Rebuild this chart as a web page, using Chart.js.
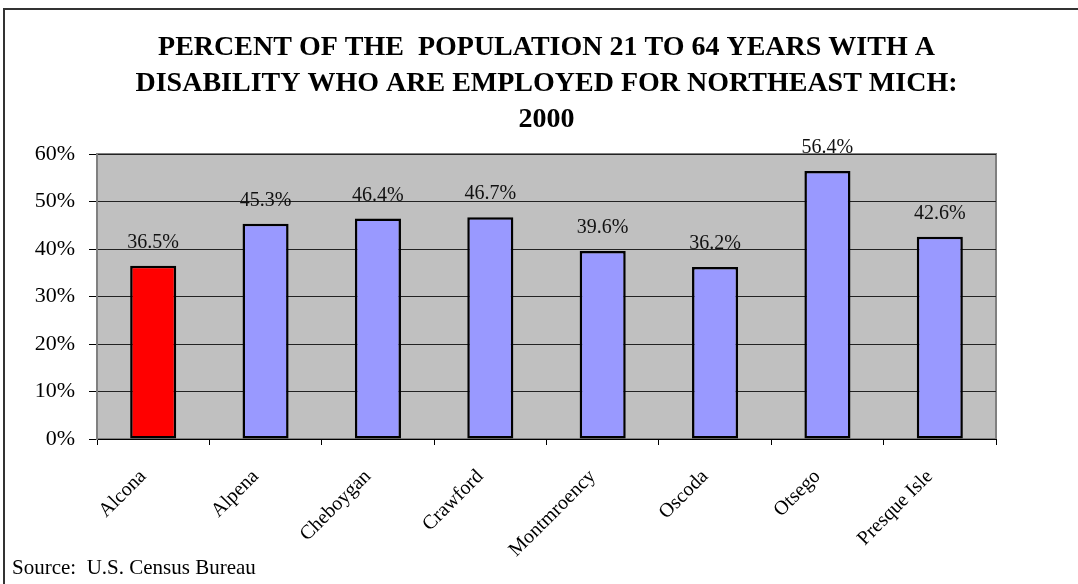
<!DOCTYPE html>
<html>
<head>
<meta charset="utf-8">
<script src="https://cdn.jsdelivr.net/npm/chart.js@4.4.1/dist/chart.umd.min.js"></script>
<style>
    html, body { margin: 0; padding: 0; background: #ffffff; }
    #wrap { position: relative; width: 1078px; height: 584px; }
</style>
</head>
<body>
<div id="wrap"><canvas id="disabilityChart" width="1078" height="584"></canvas></div>
<script>
var counties = ['Alcona', 'Alpena', 'Cheboygan', 'Crawford', 'Montmroency', 'Oscoda', 'Otsego', 'Presque Isle'];
var employedPct = [36.5, 45.3, 46.4, 46.7, 39.6, 36.2, 56.4, 42.6];
var barColors = ['#FF0000', '#9999FF', '#9999FF', '#9999FF', '#9999FF', '#9999FF', '#9999FF', '#9999FF'];
var yTicks = [0, 10, 20, 30, 40, 50, 60];
var titleLines = ['PERCENT OF THE  POPULATION 21 TO 64 YEARS WITH A', 'DISABILITY WHO ARE EMPLOYED FOR NORTHEAST MICH:', '2000'];
var sourceNote = 'Source:  U.S. Census Bureau';

var serif = "'Liberation Serif', 'Times New Roman', serif";

/*Frame, plot fill, title and source line*/
var framePlugin = {
    id: 'frame',
    beforeDraw: function (chart) {
        var ctx = chart.ctx;
        var a = chart.chartArea;
        ctx.save();
        ctx.fillStyle = '#ffffff';
        ctx.fillRect(0, 0, chart.width, chart.height);
        ctx.strokeStyle = '#333333';
        ctx.lineWidth = 2;
        ctx.beginPath();
        ctx.moveTo(4, chart.height);
        ctx.lineTo(4, 9);
        ctx.lineTo(chart.width, 9);
        ctx.stroke();
        ctx.fillStyle = '#C0C0C0';
        ctx.fillRect(a.left, a.top, a.right - a.left, a.bottom - a.top);
        ctx.strokeStyle = '#808080';
        ctx.lineWidth = 2;
        ctx.strokeRect(a.left, a.top, a.right - a.left, a.bottom - a.top);
        ctx.restore();
    },
    afterDraw: function (chart) {
        var ctx = chart.ctx;
        var a = chart.chartArea;
        var cx = (a.left + a.right) / 2;
        ctx.save();
        ctx.fillStyle = '#000000';
        ctx.textAlign = 'center';
        ctx.textBaseline = 'alphabetic';
        ctx.font = 'bold 28px ' + serif;
        titleLines.forEach(function (line, i) {
            ctx.fillText(line, cx, 55 + i * 36);
        });
        ctx.font = '21px ' + serif;
        ctx.textAlign = 'left';
        ctx.textBaseline = 'middle';
        ctx.fillText(sourceNote, 12, 568);
        ctx.restore();
    }
};

/*Value label above each bar*/
var valuePlugin = {
    id: 'valueLabels',
    afterDatasetsDraw: function (chart) {
        var ctx = chart.ctx;
        var meta = chart.getDatasetMeta(0);
        ctx.save();
        ctx.font = '20px ' + serif;
        ctx.fillStyle = '#111111';
        ctx.textAlign = 'center';
        ctx.textBaseline = 'middle';
        meta.data.forEach(function (bar, i) {
            ctx.fillText(employedPct[i].toFixed(1) + '%', bar.x, bar.y - 23);
        });
        ctx.restore();
    }
};

var chartDiv = document.getElementById('disabilityChart');
var myChart = new Chart(chartDiv, {
    type: 'bar',
    data: {
        labels: counties,
        datasets: [
            {
                data: employedPct,
                backgroundColor: barColors,
                borderColor: '#000000',
                borderWidth: 2.5,
                borderSkipped: false,
                categoryPercentage: 1,
                barPercentage: 0.41
            }]
    },
    options: {
        responsive: false,
        animation: false,
        devicePixelRatio: 1,
        layout: {
            padding: { top: 154, left: 0, right: 82, bottom: 0 }
        },
        plugins: {
            legend: { display: false },
            tooltip: { enabled: false },
            title: { display: false }
        },
        scales: {
            x: {
                offset: true,
                grid: {
                    offset: true,
                    drawOnChartArea: false,
                    tickLength: 6,
                    tickColor: '#000000'
                },
                border: { color: '#000000', width: 1 },
                ticks: {
                    color: '#000000',
                    font: { family: serif, size: 20 },
                    minRotation: 45,
                    maxRotation: 45,
                    padding: 20,
                    labelOffset: -10,
                    autoSkip: false
                },
                afterFit: function (scale) {
                    scale.height = 145;
                }
            },
            y: {
                min: 0,
                max: 60,
                afterBuildTicks: function (scale) {
                    scale.ticks = yTicks.map(function (v) { return { value: v }; });
                },
                grid: {
                    color: '#222222',
                    lineWidth: 1,
                    tickLength: 8,
                    tickColor: '#000000'
                },
                border: { color: '#808080', width: 2 },
                ticks: {
                    color: '#000000',
                    font: { family: serif, size: 22 },
                    padding: 14,
                    callback: function (value) {
                        return value + '%';
                    }
                },
                afterFit: function (scale) {
                    scale.width = 97;
                }
            }
        }
    },
    plugins: [framePlugin, valuePlugin]
});
</script>
</body>
</html>
